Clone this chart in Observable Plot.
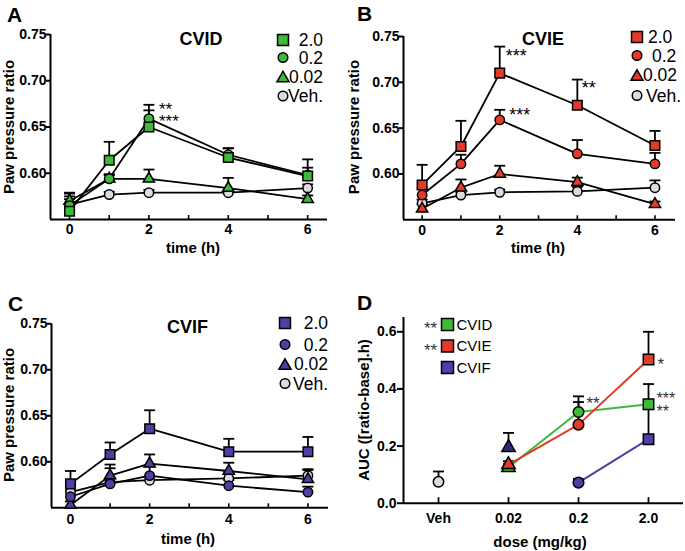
<!DOCTYPE html>
<html>
<head>
<meta charset="utf-8">
<script src="https://cdn.jsdelivr.net/npm/d3@7"></script>
<script src="https://cdn.jsdelivr.net/npm/@observablehq/plot@0.6"></script>
<style>
html,body{margin:0;padding:0;background:#fff;}
#root{position:relative;width:685px;height:551px;background:#fff;overflow:hidden;}
#root > div{position:absolute;}
</style>
</head>
<body>
<div id="root"></div>
<script>
// ---------------- data ----------------
const times = [0, 1, 2, 4, 6];
const timeTicks = [0, 2, 4, 6];
const timeMinorTicks = [0, 1, 2, 3, 4, 5, 6];
const ratioDomain = [0.55, 0.75];
const ratioTicks = [0.60, 0.65, 0.70, 0.75];
const doseNames = ["2.0", "0.2", "0.02", "Veh."];

// Panel A - CVID
const cvid_2_0 = [0.559, 0.614, 0.650, 0.617, 0.597];
const cvid_2_0_sem = [0.020, 0.020, 0.018, 0.010, 0.018];
const cvid_0_2 = [0.565, 0.594, 0.659, 0.620, 0.598];
const cvid_0_2_sem = [0.010, 0.005, 0.015, 0.007, 0.008];
const cvid_0_02 = [0.570, 0.594, 0.594, 0.584, 0.572];
const cvid_0_02_sem = [0.008, 0.004, 0.010, 0.011, 0.004];
const cvid_veh = [0.566, 0.577, 0.579, 0.579, 0.584];
const cvid_veh_sem = [0.006, 0.003, 0.003, 0.003, 0.004];

// Panel B - CVIE
const cvie_2_0 = [0.588, 0.630, 0.710, 0.675, 0.631];
const cvie_2_0_sem = [0.022, 0.028, 0.029, 0.028, 0.016];
const cvie_0_2 = [0.577, 0.611, 0.659, 0.622, 0.611];
const cvie_0_2_sem = [0.008, 0.010, 0.011, 0.015, 0.012];
const cvie_0_02 = [0.562, 0.585, 0.600, 0.591, 0.567];
const cvie_0_02_sem = [0.005, 0.009, 0.009, 0.005, 0.003];
const cvie_veh = [0.568, 0.577, 0.580, 0.581, 0.585];
const cvie_veh_sem = [0.004, 0.003, 0.003, 0.005, 0.008];

// Panel C - CVIF
const cvif_2_0 = [0.576, 0.608, 0.636, 0.611, 0.611];
const cvif_2_0_sem = [0.014, 0.013, 0.020, 0.014, 0.016];
const cvif_0_2 = [0.562, 0.576, 0.585, 0.574, 0.567];
const cvif_0_2_sem = [0.006, 0.017, 0.010, 0.006, 0.006];
const cvif_0_02 = [0.553, 0.585, 0.598, 0.590, 0.581];
const cvif_0_02_sem = [0.004, 0.012, 0.010, 0.009, 0.011];
const cvif_veh = [0.567, 0.578, 0.580, 0.582, 0.585];
const cvif_veh_sem = [0.004, 0.004, 0.004, 0.007, 0.006];

// Panel D - AUC
const doseCats = ["Veh", "0.02", "0.2", "2.0"];
const aucDomain = [0, 0.65];
const aucTicks = [0, 0.2, 0.4, 0.6];
const aucVeh = [0.075, null, null, null];
const aucVehSem = [0.036, null, null, null];
const aucCVID = [null, 0.125, 0.319, 0.346];
const aucCVIDSem = [null, 0.012, 0.055, 0.071];
const aucCVIE = [null, 0.135, 0.275, 0.503];
const aucCVIESem = [null, 0.012, 0.079, 0.097];
const aucCVIF = [null, 0.195, 0.072, 0.224];
const aucCVIFSem = [null, 0.051, 0.013, 0.105];
const cvifLineDoses = ["0.2", "2.0"];
const compounds = ["CVID", "CVIE", "CVIF"];

// ---------------- styles ----------------
const FONT = '"Liberation Sans", Arial, Helvetica, sans-serif';
const GREEN = "#3fb93a", RED = "#e43a28", BLUE = "#4a40a6", GREY = "#dcdcdc";
const symbolOf = {"2.0": "square", "0.2": "circle", "0.02": "triangle", "Veh.": "circle"};
const rOf = {"2.0": 5.4, "0.2": 4.7, "0.02": 4.2, "Veh.": 4.7};
const capSymbol = {draw(ctx) { ctx.moveTo(-5.5, 0); ctx.lineTo(5.5, 0); }};
const tickUp = {draw(ctx) { ctx.moveTo(0, 0); ctx.lineTo(0, -4.5); }};
const tickUpD = {draw(ctx) { ctx.moveTo(0, 0); ctx.lineTo(0, -6); }};

const root = d3.select("#root");
function addPlot(svg, left, top) {
  root.append("div").style("left", left + "px").style("top", top + "px").node().appendChild(svg);
}

function makeRows(vals, sems, dose) {
  return times.map((t, i) => ({t, dose, v: vals[i], top: vals[i] + sems[i]}));
}

function starMark(x, y, label, dx, dy, size = 17, fill = "#000") {
  return Plot.text([{x, y, label}], {x: "x", y: "y", text: "label", textAnchor: "start", dx, dy,
    fontSize: size, fontWeight: "normal", fill});
}

function timePanel(cfg) {
  const {width, height, m, xDomain, color, vals, sems, pad, stars} = cfg;
  const series = doseNames.map((d, i) => makeRows(vals[i], sems[i], d));
  const all = series.flat();
  const order = [3, 2, 1, 0];
  return Plot.plot({
    width, height,
    marginTop: m[0], marginRight: m[1], marginBottom: m[2], marginLeft: m[3],
    x: {domain: xDomain},
    y: {domain: ratioDomain},
    style: {fontFamily: FONT, fontSize: "14px", fontWeight: "bold", color: "#000", background: "transparent", overflow: "visible"},
    marks: [
      Plot.ruleX([xDomain[0]], {strokeWidth: 2, stroke: "#000"}),
      Plot.ruleY([ratioDomain[0]], {strokeWidth: 2, stroke: "#000"}),
      Plot.axisY(ratioTicks, {anchor: "left", tickSize: 4, tickPadding: 0, strokeWidth: 2, tickFormat: d3.format(".2f"), label: null}),
      Plot.axisX(timeTicks, {anchor: "bottom", tickSize: 0, tickPadding: pad, tickFormat: d => String(d), label: null}),
      Plot.dot(timeMinorTicks, {x: d => d, y: ratioDomain[0], symbol: tickUp, stroke: "#000", strokeWidth: 1.6, fill: "none"}),
      Plot.ruleX(all, {x: "t", y1: "v", y2: "top", stroke: "#000", strokeWidth: 1.8}),
      Plot.dot(all, {x: "t", y: "top", symbol: capSymbol, stroke: "#000", strokeWidth: 1.8, fill: "none"}),
      ...order.map(i => Plot.line(series[i], {x: "t", y: "v", stroke: "#000", strokeWidth: 1.8})),
      ...order.map(i => Plot.dot(series[i], {x: "t", y: "v", symbol: symbolOf[doseNames[i]], r: rOf[doseNames[i]],
        fill: doseNames[i] === "Veh." ? GREY : color, stroke: "#000", strokeWidth: 1.5})),
      ...stars
    ]
  });
}

// Panel A
addPlot(timePanel({
  width: 340, height: 265, m: [34, 13, 46, 50], xDomain: [-0.48, 6.5], color: GREEN, pad: 5,
  vals: [cvid_2_0, cvid_0_2, cvid_0_02, cvid_veh], sems: [cvid_2_0_sem, cvid_0_2_sem, cvid_0_02_sem, cvid_veh_sem],
  stars: [
    starMark(2, cvid_0_2[2] + cvid_0_2_sem[2], "**", 10, 4.5),
    starMark(2, cvid_2_0[2] + cvid_2_0_sem[2], "***", 10, 11)
  ]
}), 0, 0);

// Panel B
addPlot(timePanel({
  width: 345, height: 265, m: [36, 10, 45.7, 63], xDomain: [-0.48, 6.53], color: RED, pad: 5.7,
  vals: [cvie_2_0, cvie_0_2, cvie_0_02, cvie_veh], sems: [cvie_2_0_sem, cvie_0_2_sem, cvie_0_02_sem, cvie_veh_sem],
  stars: [
    starMark(2, cvie_2_0[2] + cvie_2_0_sem[2], "***", 6, 10, 18),
    starMark(4, cvie_2_0[3] + cvie_2_0_sem[3], "**", 4.5, 8.8, 18),
    starMark(2, cvie_0_2[2] + cvie_0_2_sem[2], "***", 9.5, 5.3, 18)
  ]
}), 340, 0);

// Panel C
addPlot(timePanel({
  width: 340, height: 281, m: [53.3, 12, 43.7, 51], xDomain: [-0.48, 6.52], color: BLUE, pad: 6,
  vals: [cvif_2_0, cvif_0_2, cvif_0_02, cvif_veh], sems: [cvif_2_0_sem, cvif_0_2_sem, cvif_0_02_sem, cvif_veh_sem],
  stars: []
}), 0, 270);

// Panel D
(function () {
  const colorOf = {CVID: GREEN, CVIE: RED, CVIF: BLUE, Veh: GREY};
  const valsOf = {CVID: [aucCVID, aucCVIDSem], CVIE: [aucCVIE, aucCVIESem], CVIF: [aucCVIF, aucCVIFSem], Veh: [aucVeh, aucVehSem]};
  const dSym = ["circle", "triangle", "circle", "square"];
  const dR = [5.2, 5.0, 5.3, 5.9];
  const rows = [];
  for (const c of ["Veh", ...compounds]) {
    const [v, s] = valsOf[c];
    doseCats.forEach((d, i) => {
      if (v[i] != null) rows.push({c, dose: d, x: i, v: v[i], top: v[i] + s[i]});
    });
  }
  const xDomain = [-0.5, 3.5];
  const lineRows = c => rows.filter(r => r.c === c && (c !== "CVIF" || cvifLineDoses.includes(r.dose)));
  const markerOrder = ["Veh", "CVIF", "CVID", "CVIE"];
  // the 0.02 CVIF triangle is rendered darker in the original figure
  const fillFor = (c, i) => (c === "CVIF" && i === 1) ? "#2c2a72" : colorOf[c];
  const plot = Plot.plot({
    width: 345, height: 281,
    marginTop: 47, marginRight: 2, marginBottom: 48.3, marginLeft: 63,
    x: {domain: xDomain},
    y: {domain: aucDomain},
    style: {fontFamily: FONT, fontSize: "14px", fontWeight: "bold", color: "#000", background: "transparent", overflow: "visible"},
    marks: [
      Plot.ruleX([xDomain[0]], {strokeWidth: 2, stroke: "#000"}),
      Plot.ruleY([aucDomain[0]], {strokeWidth: 2, stroke: "#000"}),
      Plot.axisY(aucTicks, {anchor: "left", tickSize: 6, tickPadding: 1, strokeWidth: 2, tickFormat: d3.format(".1f"), label: null}),
      Plot.axisX(d3.range(doseCats.length), {anchor: "bottom", tickSize: 0, tickPadding: 10, tickFormat: i => doseCats[i], label: null}),
      Plot.dot(d3.range(doseCats.length), {x: d => d, y: aucDomain[0], symbol: tickUpD, stroke: "#000", strokeWidth: 1.8, fill: "none"}),
      Plot.ruleX(rows, {x: "x", y1: "v", y2: "top", stroke: "#000", strokeWidth: 1.8}),
      Plot.dot(rows, {x: "x", y: "top", symbol: capSymbol, stroke: "#000", strokeWidth: 1.8, fill: "none"}),
      ...compounds.map(c => Plot.line(lineRows(c), {x: "x", y: "v", stroke: colorOf[c], strokeWidth: 2})),
      ...markerOrder.flatMap(c => doseCats.map((d, i) =>
        Plot.dot(rows.filter(r => r.c === c && r.x === i), {x: "x", y: "v", symbol: dSym[i], r: dR[i],
          fill: fillFor(c, i), stroke: "#000", strokeWidth: 1.5}))),
      starMark(2, aucCVID[2] + aucCVIDSem[2], "**", 8, 6.8, 17, "#333"),
      starMark(3, aucCVIE[3], "*", 9, 5.3, 17, "#333"),
      starMark(3, aucCVID[3] + aucCVIDSem[3], "***", 8, 14.5, 16, "#333"),
      starMark(3, aucCVID[3], "**", 8, 7.5, 16, "#333")
    ]
  });
  addPlot(plot, 340, 270);
})();

// ---------------- overlay text & legends ----------------
const ov = root.append("svg").attr("width", 685).attr("height", 551)
  .style("position", "absolute").style("left", "0px").style("top", "0px")
  .style("font-family", FONT).style("pointer-events", "none");

function text(x, y, s, {size = 14, weight = "normal", anchor = "start", rotate = 0, fill = "#000"} = {}) {
  const t = ov.append("text").attr("x", x).attr("y", y).attr("font-size", size).attr("font-weight", weight)
    .attr("text-anchor", anchor).attr("fill", fill).text(s);
  if (rotate) t.attr("transform", `rotate(${rotate},${x},${y})`);
  return t;
}
const symTypes = {square: d3.symbolSquare, circle: d3.symbolCircle, triangle: d3.symbolTriangle};
function legendSym(x, y, kind, fill) {
  const size = kind === "square" ? 120 : kind === "circle" ? 72 : 64;
  const off = kind === "triangle" ? 1.8 : 0;
  ov.append("path").attr("transform", `translate(${x},${y + off})`)
    .attr("d", d3.symbol(symTypes[kind], size)()).attr("fill", fill)
    .attr("stroke", "#000").attr("stroke-width", 1.5);
}

// panel letters
text(7, 22, "A", {size: 21, weight: "bold"});
text(357, 21, "B", {size: 21, weight: "bold"});
text(8, 311, "C", {size: 21, weight: "bold"});
text(357, 310, "D", {size: 21, weight: "bold"});

// titles
text(201, 45, "CVID", {size: 18, weight: "bold", anchor: "middle"});
text(543, 45, "CVIE", {size: 18, weight: "bold", anchor: "middle"});
text(187.5, 333, "CVIF", {size: 18, weight: "bold", anchor: "middle"});

// axis titles
text(13.5, 127, "Paw pressure ratio", {size: 15, weight: "bold", anchor: "middle", rotate: -90});
text(359, 127, "Paw pressure ratio", {size: 15, weight: "bold", anchor: "middle", rotate: -90});
text(14, 415, "Paw pressure ratio", {size: 15, weight: "bold", anchor: "middle", rotate: -90});
text(369, 410, "AUC ([ratio-base].h)", {size: 15, weight: "bold", anchor: "middle", rotate: -90});
text(193, 253, "time (h)", {size: 15, weight: "bold", anchor: "middle"});
text(538, 253, "time (h)", {size: 15, weight: "bold", anchor: "middle"});
text(188, 544, "time (h)", {size: 15, weight: "bold", anchor: "middle"});
text(540, 547, "dose (mg/kg)", {size: 15, weight: "bold", anchor: "middle"});

// legends A-C
const legA = {mx: 283, ys: [40, 57.5, 76.5, 96], color: GREEN};
const legB = {mx: 637, ys: [37, 55.5, 75, 95.5], color: RED};
const legC = {mx: 285, ys: [323, 344.5, 364, 383.5], color: BLUE};
function timeLegend(L, labelPos) {
  doseNames.forEach((d, i) => {
    legendSym(L.mx, L.ys[i], symbolOf[d], d === "Veh." ? GREY : L.color);
    const p = labelPos(i);
    text(p.x, L.ys[i] + 6.3, d, {size: 17.5, anchor: p.anchor});
  });
}
timeLegend(legA, () => ({x: 323, anchor: "end"}));
timeLegend(legB, i => ({x: [648, 652, 643, 646][i], anchor: "start"}));
timeLegend(legC, () => ({x: 328, anchor: "end"}));

// legend D
const legDys = [324.5, 346, 367.5];
const legDColors = [GREEN, RED, BLUE];
const legDStars = ["**", "**", ""];
compounds.forEach((c, i) => {
  ov.append("rect").attr("x", 441.5).attr("y", legDys[i] - 6).attr("width", 12).attr("height", 12)
    .attr("fill", legDColors[i]).attr("stroke", "#000").attr("stroke-width", 1.5);
  text(456.5, legDys[i] + 5.4, c, {size: 15});
  if (legDStars[i]) text(424, legDys[i] + 9.8, legDStars[i], {size: 17, fill: "#333"});
});
</script>
</body>
</html>
